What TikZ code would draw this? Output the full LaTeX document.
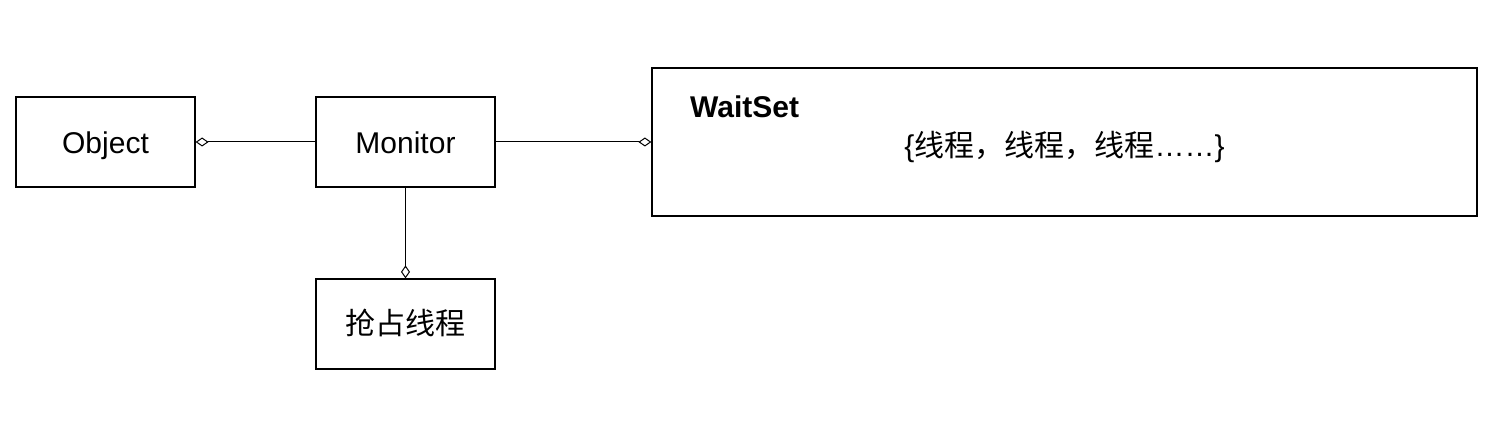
\documentclass[tikz,border=0pt]{standalone}
\usepackage{fontspec}
\setmainfont{Liberation Sans}
\newfontfamily\cjk{Noto Sans CJK SC}
\usetikzlibrary{arrows.meta}
\begin{document}
\begin{tikzpicture}[x=1pt,y=-1pt,
  box/.style={draw=black,line width=1.2pt,rectangle,inner sep=0pt,font=\fontsize{30}{34}\selectfont,
    minimum width=179pt,minimum height=90pt,text height=24pt,text depth=0pt},
  agg/.style={line width=1pt,{Diamond[open,length=13pt,width=9pt,line width=1pt]}-},
]
\useasboundingbox (0,0) rectangle (1507,443);
\node[box] (obj) at (105.5,142) {Object};
\node[box] (mon) at (405.5,142) {Monitor};
\node[box,text height=22pt] (grab) at (405.5,324) {\cjk 抢占线程};
\node[box,minimum width=825pt,minimum height=148pt] (ws) at (1064.5,142) {};
\node[anchor=base west,inner sep=0pt,font=\bfseries\fontsize{30}{34}\selectfont] (wst) at (690,118) {WaitSet};
\node[anchor=base,inner sep=0pt,font=\fontsize{30}{34}\selectfont] (set) at (1064.5,157) {\{{\cjk 线程，线程，线程}……\}};
\draw[agg] (obj.east) -- (mon.west);
\draw[agg] (ws.west) -- (mon.east);
\draw[agg] (grab.north) -- (mon.south);
\end{tikzpicture}
\end{document}
